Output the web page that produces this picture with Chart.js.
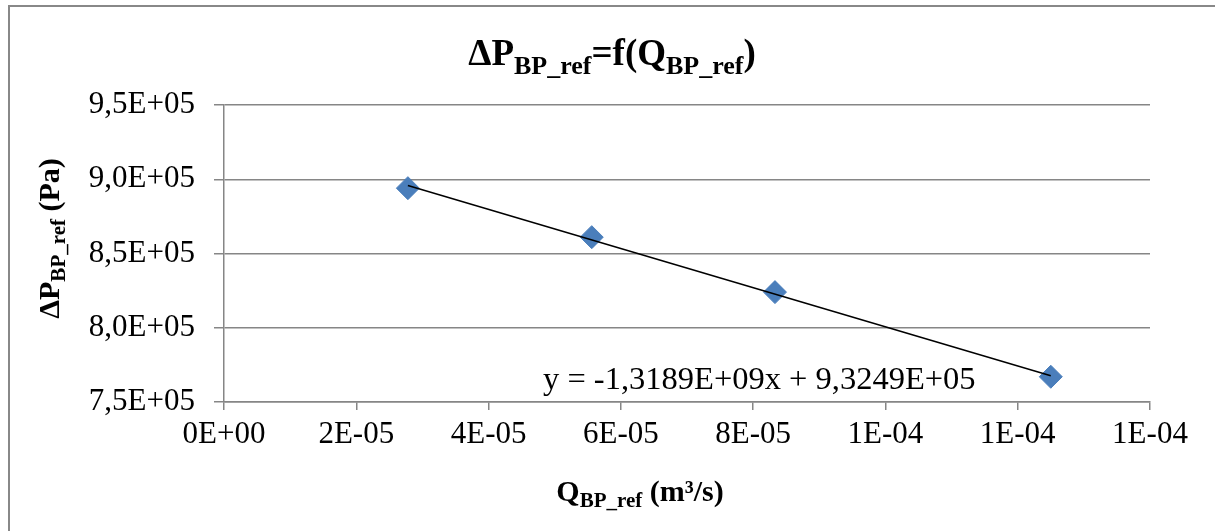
<!DOCTYPE html>
<html>
<head>
<meta charset="utf-8">
<title>ΔP BP_ref = f(Q BP_ref)</title>
<script src="https://cdn.jsdelivr.net/npm/chart.js@4.4.1/dist/chart.umd.min.js"></script>
<style>
    html, body { margin: 0; padding: 0; background: #ffffff; }
    #wrap { width: 1215px; height: 531px; }
</style>
</head>
<body>
<div id="wrap"><canvas id="pressureChart" width="1215" height="531"></canvas></div>
<script>
// Measured points: flow rate Q (m3/s) and pressure drop (Pa)
var flowRates = [2.78e-5, 5.56e-5, 8.33e-5, 1.25e-4];
var pressureDrops = [894000, 861000, 824000, 767000];

// Linear trend line (as printed on the chart)
var trendSlope = -1.3189e9;
var trendIntercept = 9.3249e5;

// Tick labels as Excel formatted them
var xTickLabels = ['0E+00', '2E-05', '4E-05', '6E-05', '8E-05', '1E-04', '1E-04', '1E-04'];
var yTickLabels = ['7,5E+05', '8,0E+05', '8,5E+05', '9,0E+05', '9,5E+05'];

var SERIF = '"Liberation Serif", "Times New Roman", serif';
var GRID = '#868686';

/**
 * Draw a line of text made of parts (normal / subscript), centered on x
 */
function drawRich(ctx, parts, x, y) {
    var total = 0;
    parts.forEach(function(p) {
        ctx.font = 'bold ' + p.size + 'px ' + SERIF;
        p.w = ctx.measureText(p.text).width;
        total += p.w;
    });
    var cx = x - total / 2;
    ctx.textAlign = 'left';
    ctx.textBaseline = 'alphabetic';
    parts.forEach(function(p) {
        ctx.font = 'bold ' + p.size + 'px ' + SERIF;
        ctx.fillText(p.text, cx, y + (p.dy || 0));
        cx += p.w;
    });
}

var textPlugin = {
    id: 'chartTexts',
    afterDraw: function(chart) {
        var ctx = chart.ctx;
        var area = chart.chartArea;
        ctx.save();
        ctx.fillStyle = '#000000';

        // Title
        drawRich(ctx, [
            { text: 'ΔP', size: 37 },
            { text: 'BP_ref', size: 26, dy: 9 },
            { text: '=f(Q', size: 37 },
            { text: 'BP_ref', size: 26, dy: 9 },
            { text: ')', size: 37 }
        ], 612, 65);

        // X axis title
        drawRich(ctx, [
            { text: 'Q', size: 30 },
            { text: 'BP_ref', size: 21, dy: 6 },
            { text: ' (m³/s)', size: 30 }
        ], 640, 501);

        // Y axis title (rotated)
        ctx.save();
        ctx.translate(59, (area.top + area.bottom) / 2 - 15);
        ctx.rotate(-Math.PI / 2);
        drawRich(ctx, [
            { text: 'ΔP', size: 30 },
            { text: 'BP_ref', size: 21, dy: 6 },
            { text: ' (Pa)', size: 30 }
        ], 0, 0);
        ctx.restore();

        // Trend line equation
        ctx.font = '32.5px ' + SERIF;
        ctx.textAlign = 'left';
        ctx.textBaseline = 'alphabetic';
        ctx.fillText('y = -1,3189E+09x + 9,3249E+05', 543, 389);

        // Outer chart frame
        ctx.strokeStyle = '#888888';
        ctx.lineWidth = 2;
        ctx.strokeRect(9, 6, 1220, 540);
        ctx.restore();
    }
};

function initPressureChart() {
    var ctx = document.getElementById('pressureChart').getContext('2d');

    var points = flowRates.map(function(q, i) {
        return { x: q, y: pressureDrops[i] };
    });
    var qFirst = flowRates[0];
    var qLast = flowRates[flowRates.length - 1];
    var trend = [
        { x: qFirst, y: trendSlope * qFirst + trendIntercept },
        { x: qLast, y: trendSlope * qLast + trendIntercept }
    ];

    new Chart(ctx, {
        type: 'scatter',
        data: {
            datasets: [{
                type: 'line',
                label: 'Linéaire',
                data: trend,
                borderColor: '#000000',
                borderWidth: 1.5,
                pointRadius: 0,
                fill: false,
                order: 0
            }, {
                label: 'ΔP',
                data: points,
                pointStyle: 'rectRot',
                pointRadius: 11.5,
                pointHoverRadius: 11.5,
                backgroundColor: '#4a7ebb',
                borderColor: '#4a7ebb',
                borderWidth: 1,
                order: 1
            }]
        },
        options: {
            responsive: false,
            animation: false,
            layout: {
                padding: { top: 105, right: 65, bottom: 0, left: 0 }
            },
            plugins: {
                legend: { display: false },
                title: { display: false },
                tooltip: { enabled: false }
            },
            scales: {
                x: {
                    type: 'linear',
                    min: 0,
                    max: 1.4e-4,
                    afterFit: function(scale) { scale.height = 129; },
                    ticks: {
                        stepSize: 2e-5,
                        padding: 6,
                        color: '#000000',
                        font: { family: SERIF, size: 31 },
                        maxRotation: 0,
                        callback: function(v, i) { return xTickLabels[i]; }
                    },
                    grid: {
                        drawOnChartArea: false,
                        drawTicks: true,
                        tickLength: 8,
                        color: GRID,
                        lineWidth: 1.5
                    },
                    border: { display: true, color: GRID, width: 1.5 }
                },
                y: {
                    min: 750000,
                    max: 950000,
                    afterFit: function(scale) { scale.width = 224; },
                    ticks: {
                        stepSize: 50000,
                        padding: 19,
                        color: '#000000',
                        font: { family: SERIF, size: 31 },
                        callback: function(v, i) { return yTickLabels[i]; }
                    },
                    grid: {
                        drawTicks: true,
                        tickLength: 10,
                        color: GRID,
                        lineWidth: 1.5
                    },
                    border: { display: true, color: GRID, width: 1.5 }
                }
            }
        },
        plugins: [textPlugin]
    });
}

initPressureChart();
</script>
</body>
</html>
